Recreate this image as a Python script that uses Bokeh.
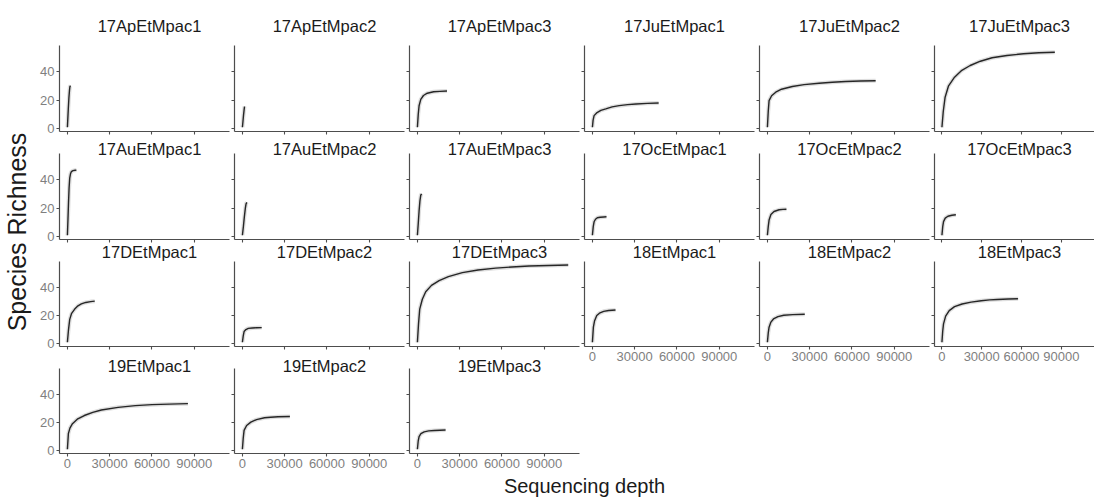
import math
from bokeh.plotting import figure
from bokeh.layouts import row, column
from bokeh.models import Range1d, FixedTicker, Label, Title, ColumnDataSource, Spacer
from bokeh.embed import file_html
from bokeh.resources import INLINE

# ---------------- data ----------------
grid_rows = [
    ["17ApEtMpac1", "17ApEtMpac2", "17ApEtMpac3", "17JuEtMpac1", "17JuEtMpac2", "17JuEtMpac3"],
    ["17AuEtMpac1", "17AuEtMpac2", "17AuEtMpac3", "17OcEtMpac1", "17OcEtMpac2", "17OcEtMpac3"],
    ["17DEtMpac1", "17DEtMpac2", "17DEtMpac3", "18EtMpac1", "18EtMpac2", "18EtMpac3"],
    ["19EtMpac1", "19EtMpac2", "19EtMpac3"],
]

d_17ApEtMpac1 = [1, 300, 700, 1100, 1500, 1800, 2300]
r_17ApEtMpac1 = [1, 7, 15, 22, 27, 29.5, 30]
d_17ApEtMpac2 = [1, 400, 800, 1200, 1500]
r_17ApEtMpac2 = [1, 5, 9.5, 13, 15.5]
d_17ApEtMpac3 = [1, 600, 1200, 2400, 4300, 7000, 11500, 16000, 21000]
r_17ApEtMpac3 = [1, 10, 16, 20.5, 23.2, 24.8, 25.8, 26.1, 26.3]
d_17JuEtMpac1 = [1, 500, 1200, 3000, 6000, 9500, 14000, 19000, 25000, 31000, 39000, 47000]
r_17JuEtMpac1 = [1, 6, 9.1, 11, 12.8, 13.8, 15.2, 16.1, 16.8, 17.3, 17.7, 18.0]
d_17JuEtMpac2 = [1, 600, 1200, 3000, 5900, 10000, 17700, 26000, 36600, 46000, 55500, 66000, 76800]
r_17JuEtMpac2 = [1, 12, 19.6, 23, 25.5, 27.6, 29.5, 30.8, 31.8, 32.5, 33, 33.3, 33.5]
d_17JuEtMpac3 = [1, 1000, 2400, 5000, 9500, 15000, 21300, 29000, 37800, 49000, 61500, 73000, 85100]
r_17JuEtMpac3 = [1, 12, 22, 30, 36, 40.8, 44.2, 47.2, 49.6, 51.2, 52.4, 53.1, 53.5]

d_17AuEtMpac1 = [1, 400, 800, 1200, 1650, 2200, 2800, 4000, 5500, 6400]
r_17AuEtMpac1 = [1, 12, 24, 34, 41, 44, 45.5, 46.2, 46.5, 46.6]
d_17AuEtMpac2 = [1, 700, 1400, 2100, 2600, 3200]
r_17AuEtMpac2 = [1, 7, 14, 20, 23, 24]
d_17AuEtMpac3 = [1, 600, 1200, 1800, 2400, 3000]
r_17AuEtMpac3 = [1, 9, 18, 25, 29, 30]
d_17OcEtMpac1 = [1, 600, 1200, 2200, 3500, 5500, 8000, 10000]
r_17OcEtMpac1 = [1, 7, 10.4, 12.2, 13.2, 13.6, 13.8, 13.9]
d_17OcEtMpac2 = [1, 600, 1200, 2500, 4700, 8300, 11000, 13500]
r_17OcEtMpac2 = [1, 7, 11.6, 15.5, 17.6, 18.8, 19.1, 19.2]
d_17OcEtMpac3 = [1, 600, 1200, 2500, 4500, 7500, 10500]
r_17OcEtMpac3 = [1, 7, 10.5, 13, 14.3, 15, 15.3]

d_17DEtMpac1 = [1, 800, 1650, 3000, 5200, 7500, 9900, 13000, 16500, 19400]
r_17DEtMpac1 = [1, 10, 17.2, 21.5, 24.5, 26.8, 28.2, 29.2, 29.8, 30.1]
d_17DEtMpac2 = [1, 600, 1200, 2500, 4200, 7000, 10000, 13700]
r_17DEtMpac2 = [1, 5.5, 8.6, 10, 10.8, 11.1, 11.3, 11.4]
d_17DEtMpac3 = [1, 800, 1650, 3500, 5900, 10000, 15400, 22000, 31900, 43000, 55500, 67000, 79200, 93000, 107000]
r_17DEtMpac3 = [1, 14, 24.5, 31.5, 36.8, 41.3, 44.7, 47.5, 50.3, 52.2, 53.5, 54.3, 55, 55.4, 55.7]
d_18EtMpac1 = [1, 700, 1500, 3100, 5000, 8000, 11500, 16400]
r_18EtMpac1 = [1, 11.7, 16, 19.9, 21.6, 22.9, 23.5, 23.9]
d_18EtMpac2 = [1, 600, 1200, 2500, 4300, 7500, 11600, 18000, 26500]
r_18EtMpac2 = [1, 7.5, 11.7, 15.3, 17.5, 19.2, 20.1, 20.6, 20.8]
d_18EtMpac3 = [1, 600, 1200, 2800, 5500, 9500, 15200, 22000, 29600, 36000, 41700, 50000, 57400]
r_18EtMpac3 = [1, 9, 14, 19.5, 23.4, 26.2, 28.1, 29.4, 30.4, 31.0, 31.3, 31.6, 31.8]

d_19EtMpac1 = [1, 700, 1800, 3600, 7000, 12000, 18000, 24100, 36000, 48200, 60000, 72300, 85500]
r_19EtMpac1 = [1, 12.1, 16, 19.1, 22.3, 24.9, 27.1, 28.8, 30.7, 31.9, 32.6, 33.0, 33.3]
d_19EtMpac2 = [1, 600, 1200, 3000, 6000, 10000, 15700, 20000, 25300, 33700]
r_19EtMpac2 = [1, 9, 14.4, 17.8, 20.2, 22, 23.3, 23.7, 24.0, 24.2]
d_19EtMpac3 = [1, 600, 1200, 2500, 4800, 8000, 12000, 16000, 20000]
r_19EtMpac3 = [1, 7, 10, 12, 13.3, 14, 14.3, 14.5, 14.6]

curves = {
    "17ApEtMpac1": (d_17ApEtMpac1, r_17ApEtMpac1),
    "17ApEtMpac2": (d_17ApEtMpac2, r_17ApEtMpac2),
    "17ApEtMpac3": (d_17ApEtMpac3, r_17ApEtMpac3),
    "17JuEtMpac1": (d_17JuEtMpac1, r_17JuEtMpac1),
    "17JuEtMpac2": (d_17JuEtMpac2, r_17JuEtMpac2),
    "17JuEtMpac3": (d_17JuEtMpac3, r_17JuEtMpac3),
    "17AuEtMpac1": (d_17AuEtMpac1, r_17AuEtMpac1),
    "17AuEtMpac2": (d_17AuEtMpac2, r_17AuEtMpac2),
    "17AuEtMpac3": (d_17AuEtMpac3, r_17AuEtMpac3),
    "17OcEtMpac1": (d_17OcEtMpac1, r_17OcEtMpac1),
    "17OcEtMpac2": (d_17OcEtMpac2, r_17OcEtMpac2),
    "17OcEtMpac3": (d_17OcEtMpac3, r_17OcEtMpac3),
    "17DEtMpac1": (d_17DEtMpac1, r_17DEtMpac1),
    "17DEtMpac2": (d_17DEtMpac2, r_17DEtMpac2),
    "17DEtMpac3": (d_17DEtMpac3, r_17DEtMpac3),
    "18EtMpac1": (d_18EtMpac1, r_18EtMpac1),
    "18EtMpac2": (d_18EtMpac2, r_18EtMpac2),
    "18EtMpac3": (d_18EtMpac3, r_18EtMpac3),
    "19EtMpac1": (d_19EtMpac1, r_19EtMpac1),
    "19EtMpac2": (d_19EtMpac2, r_19EtMpac2),
    "19EtMpac3": (d_19EtMpac3, r_19EtMpac3),
}

x_ticks = [0, 30000, 60000, 90000]
x_tick_labels = ["0", "30000", "60000", "90000"]
y_ticks = [0, 20, 40]
y_tick_labels = ["0", "20", "40"]
X_LIMITS = (-5600, 115000)
Y_LIMITS = (-2.0, 58.2)

x_title = "Sequencing depth"
y_title = "Species Richness"

# ---------------- styling ----------------
FONT = "Liberation Sans"
AXIS_COL = "#4d4d4d"
TICK_LABEL_COL = "#7f7f7f"
TEXT_COL = "#1a1a1a"

# (space above the axis top, axis height, bottom border, title offset above axis top)
ROW_CFG_LEFT = [(45, 86, 8, 20), (14, 86, 5, 5), (17, 85, 8, 10), (14, 85, 17, 3)]
ROW_CFG_RIGHT = [(45, 86, 8, 20), (14, 86, 5, 5), (17, 85, 124, 10)]


def style_axis(ax, ticks, labels, show, bounds):
    ax.ticker = FixedTicker(ticks=ticks)
    ax.bounds = bounds
    ax.axis_line_color = AXIS_COL
    ax.axis_line_width = 1.2
    ax.major_tick_line_color = AXIS_COL
    ax.major_tick_line_width = 1.1
    ax.major_tick_out = 3
    ax.major_tick_in = 0
    ax.minor_tick_line_color = None
    ax.major_label_text_font = FONT
    ax.major_label_text_color = TICK_LABEL_COL
    if show:
        ax.major_label_overrides = {t: l for t, l in zip(ticks, labels)}
        ax.major_label_text_font_size = "13px"
        ax.major_label_standoff = 2
    else:
        ax.major_label_overrides = {t: "" for t in ticks}
        ax.major_label_text_font_size = "0px"
        ax.major_label_standoff = 0


def panel(name, col, cfg, show_x):
    top, fh, bottom, toff = cfg
    if col == 0:
        w, bl, br = 195, 24, 1
    elif col == 5:
        w, bl, br = 164, 4, 0
    else:
        w, bl, br = 175, 4, 1
    # the frame reaches the top of the figure so that the strip title can be drawn
    # inside it; the y axis line stops at the panel's real top (bounds)
    units_per_px = (Y_LIMITS[1] - Y_LIMITS[0]) / fh
    y_end = Y_LIMITS[1] + top * units_per_px
    p = figure(width=w, height=top + fh + bottom,
               x_range=Range1d(*X_LIMITS), y_range=Range1d(Y_LIMITS[0], y_end),
               output_backend="svg", toolbar_location=None, title=None,
               min_border_left=bl, min_border_right=br,
               min_border_top=0, min_border_bottom=bottom)
    p.outline_line_color = None
    p.grid.visible = False
    p.background_fill_color = "white"
    p.border_fill_color = "white"
    d, r = curves[name]
    src = ColumnDataSource(dict(x=d, y=r))
    p.line("x", "y", source=src, line_color="#c8c8c8", line_width=4, line_alpha=0.6)
    p.line("x", "y", source=src, line_color="#262626", line_width=1.4)
    style_axis(p.xaxis[0], x_ticks, x_tick_labels, show_x, "auto")
    style_axis(p.yaxis[0], y_ticks, y_tick_labels, col == 0, (Y_LIMITS[0], Y_LIMITS[1]))
    p.add_layout(Label(x=(X_LIMITS[0] + X_LIMITS[1]) / 2, y=Y_LIMITS[1],
                       x_offset=5, y_offset=toff, text=name,
                       text_align="center", text_baseline="middle",
                       text_font=FONT, text_font_size="16.5px", text_color=TEXT_COL))
    return p


left_rows = []
for ri, names in enumerate(grid_rows):
    figs = [panel(n, c, ROW_CFG_LEFT[ri], ri == 3) for c, n in enumerate(names[:3])]
    left_rows.append(row(*figs, spacing=0))
left_block = column(*left_rows, spacing=0)

right_rows = []
for ri, names in enumerate(grid_rows[:3]):
    figs = [panel(n, c + 3, ROW_CFG_RIGHT[ri], ri == 2) for c, n in enumerate(names[3:6])]
    right_rows.append(row(*figs, spacing=0))
right_block = column(*right_rows, spacing=0)

# y-axis title strip: a vertical title on the left side of an empty figure
yfig = figure(width=35, height=463, x_range=Range1d(0, 1), y_range=Range1d(0, 1),
              output_backend="svg", toolbar_location=None, title=None,
              x_axis_type=None, y_axis_type=None, min_border=0)
yfig.outline_line_color = None
yfig.grid.visible = False
yfig.add_layout(Title(text=y_title, align="center", offset=0, standoff=0,
                      text_font=FONT, text_font_size="25px", text_font_style="normal",
                      text_color=TEXT_COL), "left")
ystrip = column(yfig, Spacer(width=35, height=37), spacing=0)

# x-axis title strip
xfig = figure(width=1059, height=30, x_range=Range1d(35, 1094), y_range=Range1d(0, 30),
              output_backend="svg", toolbar_location=None, title=None,
              x_axis_type=None, y_axis_type=None, min_border=0)
xfig.outline_line_color = None
xfig.grid.visible = False
xfig.add_layout(Label(x=584, y=15, text=x_title,
                      text_align="center", text_baseline="middle",
                      text_font=FONT, text_font_size="20px", text_color=TEXT_COL))

layout = row(ystrip, column(row(left_block, right_block, spacing=0), xfig, spacing=0), spacing=0)

open("out.html", "w").write(file_html(layout, INLINE))
